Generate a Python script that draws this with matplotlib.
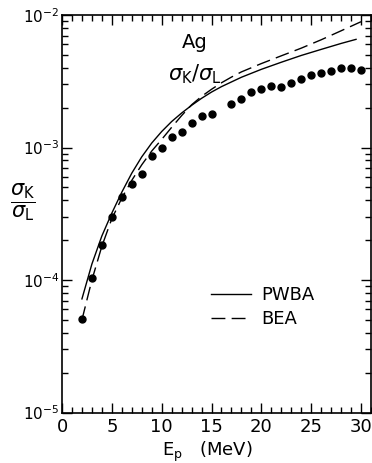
import matplotlib
matplotlib.use("Agg")
import matplotlib.pyplot as plt
from matplotlib.ticker import MultipleLocator, LogLocator, NullFormatter

plt.rcParams['font.family'] = ['DejaVu Sans']
plt.rcParams['mathtext.fontset'] = 'dejavusans'

# Measured data (sigma_K / sigma_L for Ag)
exp_E = [2, 3, 4, 5, 6, 7, 8, 9, 10, 11, 12, 13, 14, 15, 17, 18, 19, 20,
         21, 22, 23, 24, 25, 26, 27, 28, 29, 30]
exp_ratio = [5.05e-5, 1.04e-4, 1.85e-4, 2.98e-4, 4.2e-4, 5.33e-4, 6.28e-4,
             8.67e-4, 1.0e-3, 1.20e-3, 1.32e-3, 1.52e-3, 1.74e-3, 1.78e-3,
             2.13e-3, 2.33e-3, 2.62e-3, 2.74e-3, 2.93e-3, 2.85e-3, 3.07e-3,
             3.29e-3, 3.52e-3, 3.64e-3, 3.79e-3, 3.95e-3, 3.97e-3, 3.85e-3]

# PWBA theory (solid)
pwba_E = [2, 3, 4, 5, 6, 7, 8, 9, 10, 11, 12, 13, 14, 15, 16, 18, 20, 22,
          24, 26, 28, 29.5]
pwba_ratio = [7.2e-5, 1.32e-4, 2.15e-4, 3.2e-4, 4.6e-4, 6.4e-4, 8.5e-4,
              1.08e-3, 1.32e-3, 1.57e-3, 1.82e-3, 2.08e-3, 2.35e-3, 2.62e-3,
              2.88e-3, 3.39e-3, 3.89e-3, 4.40e-3, 4.95e-3, 5.50e-3, 6.10e-3,
              6.55e-3]

# BEA theory (dashed)
bea_E = [2, 3, 4, 5, 6, 7, 8, 9, 10, 11, 12, 13, 14, 15, 16, 17, 18, 20,
         22, 24, 26, 28, 30]
bea_ratio = [5.0e-5, 1.0e-4, 1.8e-4, 2.9e-4, 4.15e-4, 5.65e-4, 7.4e-4,
             9.4e-4, 1.15e-3, 1.42e-3, 1.74e-3, 2.1e-3, 2.43e-3, 2.75e-3,
             3.08e-3, 3.40e-3, 3.72e-3, 4.30e-3, 4.92e-3, 5.62e-3, 6.50e-3,
             7.60e-3, 8.90e-3]

x_ticks = [0, 5, 10, 15, 20, 25, 30]
x_ticklabels = ['0', '5', '10', '15', '20', '25', '30']
y_ticks = [1e-5, 1e-4, 1e-3, 1e-2]
y_ticklabels = [r'$10^{-5}$', r'$10^{-4}$', r'$10^{-3}$', r'$10^{-2}$']

fig = plt.figure(figsize=(3.72, 4.63), dpi=100)
ax = fig.add_axes([62/372, 1 - 412.5/463, (371 - 62)/372, (412.5 - 15)/463])

ax.plot(pwba_E, pwba_ratio, color='black', lw=1.0, label='PWBA')
ax.plot(bea_E, bea_ratio, color='black', lw=1.0, dashes=(10, 4.5), label='BEA')
ax.plot(exp_E, exp_ratio, 'o', color='black', ms=5, mec='black')

ax.set_yscale('log')
ax.set_xlim(0, 31)
ax.set_ylim(1e-5, 1e-2)

ax.set_xticks(x_ticks)
ax.set_xticklabels(x_ticklabels, fontsize=13)
ax.xaxis.set_minor_locator(MultipleLocator(1))
ax.set_yticks(y_ticks)
ax.set_yticklabels(y_ticklabels, fontsize=11)
ax.yaxis.set_minor_locator(LogLocator(base=10, subs=range(2, 10)))
ax.yaxis.set_minor_formatter(NullFormatter())

ax.tick_params(which='both', direction='in', top=True, right=True, width=1.0)
ax.tick_params(which='major', length=7)
ax.tick_params(axis='x', which='major', pad=4)
ax.tick_params(axis='y', which='major', pad=2)
ax.tick_params(which='minor', length=4)
for s in ax.spines.values():
    s.set_linewidth(1.2)

ax.set_xlabel(r'E$_\mathregular{p}$   (MeV)', fontsize=13)
ax.xaxis.set_label_coords((207 - 62) / 309, -0.068)

fig.text(23/372, 1 - 202/463,
         r'$\dfrac{\sigma_\mathrm{K}}{\sigma_\mathrm{L}}$',
         fontsize=15, ha='center', va='center')

ax.text(0.43, 0.93, 'Ag', transform=ax.transAxes, fontsize=14,
        ha='center', va='center')
ax.text(0.43, 0.85, r'$\sigma_\mathrm{K}/\sigma_\mathrm{L}$',
        transform=ax.transAxes, fontsize=15, ha='center', va='center')

ax.legend(loc='center left', bbox_to_anchor=(0.43, 0.265), frameon=False,
          fontsize=13, handlelength=2.2, handletextpad=0.6, labelspacing=0.3)

fig.savefig('out.png', dpi=100)
